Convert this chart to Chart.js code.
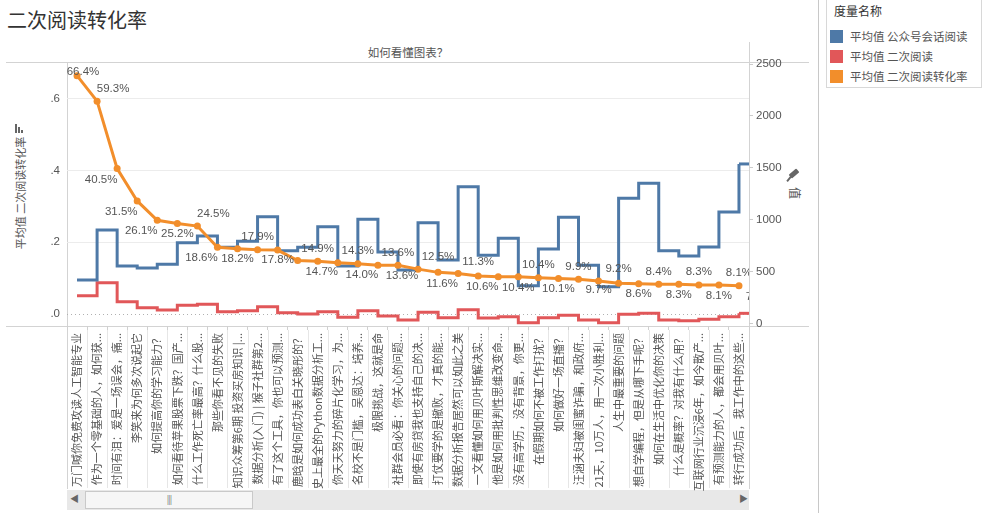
<!DOCTYPE html>
<html>
<head>
<meta charset="utf-8">
<script src="https://cdn.jsdelivr.net/npm/chart.js@4.4.1/dist/chart.umd.min.js"></script>
<style>
  body { margin: 0; width: 982px; height: 513px; position: relative; background: #fff; overflow: hidden;
         font-family: "Noto Sans CJK SC", "Noto Sans", sans-serif; color: #555; }
  .abs { position: absolute; }
  .line { position: absolute; background: #d3d3d3; }
  #title { left: 7px; top: 6px; font-size: 20px; line-height: 28px; color: #333; }
  #header { left: 67px; width: 682px; top: 44px; font-size: 11.5px; line-height: 16px; text-align: center; color: #555; }
  #chart { position: absolute; left: 0; top: 42px; z-index: 2; }
  #ytitle { left: -60px; width: 160px; top: 185px; font-size: 11px; line-height: 16px; text-align: center; transform: rotate(-90deg); color: #555; }
  #y2title { left: 787px; top: 185px; width: 16px; font-size: 12px; line-height: 16px; text-align: center; transform: rotate(90deg); color: #555; }
  #legend { left: 826px; top: 0; width: 154px; height: 87px; border: 1px solid #d8d8d8; border-top: none; background: #fff; }
  #legend .head { position: absolute; left: 7px; top: 2px; font-size: 12px; line-height: 18px; color: #333; }
  #legend .item { position: absolute; left: 3px; font-size: 11.5px; line-height: 14px; color: #555; white-space: nowrap; }
  #legend .sw { display: inline-block; width: 13px; height: 13px; vertical-align: -2px; margin-right: 7px; }
  #scroll { left: 67px; top: 490px; width: 682px; height: 20px; background: #e8e8e8; }
  #thumb { left: 85px; top: 491px; width: 168px; height: 18px; background: #f6f6f6; border: 1px solid #c9c9c9; box-sizing: border-box;
           font-size: 9px; line-height: 16px; text-align: center; color: #777; letter-spacing: -1px; }
</style>
</head>
<body>
<div id="title" class="abs">二次阅读转化率</div>
<div id="header" class="abs">如何看懂图表？</div>

<!-- frame lines -->
<div class="line" style="left:6px; top:62px; width:803px; height:1px;"></div>
<div class="line" style="left:6px; top:326px; width:803px; height:1px;"></div>
<div class="line" style="left:67px; top:62px; width:1px; height:427px;"></div>
<div class="line" style="left:749px; top:42px; width:1px; height:447px;"></div>
<div class="line" style="left:818px; top:0; width:1px; height:513px; background:#c8c8c8;"></div>

<!-- axis titles -->
<div class="abs" style="left:15px; top:124px; width:10px; height:9px;">
  <div class="abs" style="left:0; top:0; width:2px; height:9px; background:#666;"></div>
  <div class="abs" style="left:3px; top:3px; width:2px; height:6px; background:#666;"></div>
  <div class="abs" style="left:6px; top:6px; width:2px; height:3px; background:#666;"></div>
</div>
<div id="ytitle" class="abs">平均值 二次阅读转化率</div>
<div class="abs" style="left:789px; top:171px; width:10px; height:5px; background:#666; transform:rotate(-40deg); border-radius:1px;"></div>
<div class="abs" style="left:788px; top:176px; width:2px; height:6px; background:#666; transform:rotate(40deg);"></div>
<div id="y2title" class="abs">值</div>

<div id="legend" class="abs">
  <div class="head">度量名称</div>
  <div class="item" style="top:29px;"><span class="sw" style="background:#4e79a7"></span>平均值 公众号会话阅读</div>
  <div class="item" style="top:49px;"><span class="sw" style="background:#e15759"></span>平均值 二次阅读</div>
  <div class="item" style="top:69px;"><span class="sw" style="background:#f28e2b"></span>平均值 二次阅读转化率</div>
</div>

<div id="scroll" class="abs"></div>
<div class="abs" style="left:70px; top:492px; font-size:9px; color:#666;">◀</div>
<div id="thumb" class="abs">|||</div>
<div class="abs" style="left:739px; top:492px; font-size:9px; color:#666;">▶</div>

<canvas id="chart" width="820" height="450"></canvas>

<script>
// 文章标题（横轴）
const categories = [
  "万门喊你免费攻读人工智能专业",
  "作为一个零基础的人，如何获...",
  "时间有泪：爱是一场误会，痛...",
  "李笑来为何多次说起它",
  "如何提高你的学习能力？",
  "如何看待苹果股票下跌？国产...",
  "什么工作死亡率最高？什么股...",
  "那些你看不见的失败",
  "知识众筹第6期 投资买房知识 |...",
  "数据分析(入门) | 猴子社群第2...",
  "有了这个工具，你也可以预测...",
  "鹿晗是如何成功表白关晓彤的？",
  "史上最全的Python数据分析工...",
  "你天天努力的碎片化学习，为...",
  "名校不是门槛，吴恩达：培养...",
  "极限挑战，这就是命",
  "社群会员必看：你关心的问题...",
  "即使有房贷我也支持自己的决...",
  "打仗要学的是撤败，才真的能...",
  "数据分析报告居然可以如此之美",
  "一文看懂如何用贝叶斯解决实...",
  "他是如何用批判性思维改变命...",
  "没有高学历，没有背景，你更...",
  "在假期如何不被工作打扰？",
  "如何做好一场直播？",
  "汪涵夫妇被闺蜜诈骗，和政府...",
  "21天，10万人，用一次小胜利...",
  "人生中最重要的问题",
  "想自学编程，但是从哪下手呢？",
  "如何在生活中优化你的决策",
  "什么是概率？对我有什么用？",
  "互联网行业沉浸6年，如今散产...",
  "有预测能力的人，都会用贝叶...",
  "转行成功后，我工作中的这些..."
];

// 平均值 二次阅读转化率（左轴）
const rates = [0.664, 0.593, 0.405, 0.315, 0.261, 0.252, 0.245, 0.186, 0.182, 0.179, 0.178,
  0.149, 0.147, 0.143, 0.140, 0.136, 0.136, 0.125, 0.116, 0.113, 0.106, 0.104, 0.104,
  0.101, 0.099, 0.097, 0.092, 0.086, 0.084, 0.083, 0.083, 0.081, 0.081, 0.079];

// 平均值 公众号会话阅读（右轴）
const sessionReads = [420, 902, 555, 536, 571, 779, 844, 735, 793, 1030, 702, 735, 934, 555,
  1005, 690, 516, 972, 613, 1319, 658, 822, 365, 719, 1024, 562, 355, 1207, 1352, 702, 651,
  738, 1075, 1538];

// 平均值 二次阅读（右轴）
const secondReads = [269, 394, 211, 153, 131, 176, 186, 115, 124, 163, 105, 92, 115, 61, 124,
  73, 35, 109, 57, 134, 54, 66, 8, 57, 80, 35, 9, 90, 99, 35, 28, 41, 66, 99];

const rateTicks = [0, 0.2, 0.4, 0.6];
const valueTicks = [0, 500, 1000, 1500, 2000, 2500];

// 百分比标签相对数据点的偏移（像素）
const labelOffsets = [
  [6, -4], [16, -12], [-16, 11], [-16, 11], [-16, 11], [0, 10], [16, -12], [-16, 11],
  [0, 10], [0, -13], [0, 10], [20, -12], [4, 11], [20, -12], [4, 11], [20, -12], [4, 11],
  [20, -12], [4, 11], [20, -12], [4, 11], [20, 11], [20, -12], [20, 11], [20, -12], [20, 11],
  [20, -12], [20, 11], [20, -12], [20, 11], [20, -12], [20, 11], [20, -12], [20, 11]
];

const numFont = '"Liberation Sans", Arial, sans-serif';
const cjkFont = '"Noto Sans CJK SC", "Noto Sans", sans-serif';

const extras = {
  id: "extras",
  beforeDatasetsDraw(chart) {
    const { ctx, chartArea, scales } = chart;
    // 零线（虚线）
    const y0 = Math.round(scales.y.getPixelForValue(0)) + 0.5;
    ctx.save();
    ctx.strokeStyle = "#b0b0b0";
    ctx.lineWidth = 1;
    ctx.setLineDash([1, 3]);
    ctx.beginPath();
    ctx.moveTo(chartArea.left, y0);
    ctx.lineTo(chartArea.right, y0);
    ctx.stroke();
    ctx.restore();

    // 标签区域的分隔线
    const x = scales.x;
    const band = x.getPixelForValue(1) - x.getPixelForValue(0);
    ctx.save();
    ctx.strokeStyle = "#e6e6e6";
    ctx.lineWidth = 1;
    for (let i = 1; i < categories.length; i++) {
      const px = Math.round(x.getPixelForValue(i) - band / 2) + 0.5;
      ctx.beginPath();
      ctx.moveTo(px, chartArea.bottom + 4);
      ctx.lineTo(px, chartArea.bottom + 162);
      ctx.stroke();
    }
    ctx.restore();
  },
  afterDatasetDraw(chart, args) {
    const ds = chart.data.datasets[args.index];
    if (!ds.stepped) return;
    const { ctx, chartArea } = chart;
    const pts = args.meta.data;
    const last = pts[pts.length - 1];
    ctx.save();
    ctx.strokeStyle = ds.borderColor;
    ctx.lineWidth = ds.borderWidth;
    ctx.beginPath();
    ctx.moveTo(last.x, last.y);
    ctx.lineTo(chartArea.right, last.y);
    ctx.stroke();
    ctx.restore();
  },
  afterDatasetsDraw(chart) {
    const { ctx, chartArea } = chart;
    const meta = chart.getDatasetMeta(0);
    ctx.save();
    ctx.beginPath();
    ctx.rect(chartArea.left, chartArea.top, chartArea.right - chartArea.left, chartArea.bottom - chartArea.top);
    ctx.clip();
    ctx.font = "11.5px " + numFont;
    ctx.fillStyle = "#555";
    ctx.textAlign = "center";
    ctx.textBaseline = "middle";
    meta.data.forEach((pt, i) => {
      const txt = (rates[i] * 100).toFixed(1) + "%";
      const off = labelOffsets[i];
      ctx.fillText(txt, pt.x + off[0], pt.y + off[1]);
    });
    ctx.restore();
  }
};

new Chart(document.getElementById("chart"), {
  type: "line",
  data: {
    labels: categories,
    datasets: [
      {
        label: "平均值 二次阅读转化率",
        data: rates,
        yAxisID: "y",
        borderColor: "#f28e2b",
        backgroundColor: "#f28e2b",
        borderWidth: 3,
        pointRadius: 3.5,
        pointBorderWidth: 0,
        pointBackgroundColor: "#f28e2b",
        tension: 0,
        order: 0
      },
      {
        label: "平均值 公众号会话阅读",
        data: sessionReads,
        yAxisID: "y2",
        borderColor: "#4e79a7",
        borderWidth: 3,
        pointRadius: 0,
        stepped: true,
        order: 1
      },
      {
        label: "平均值 二次阅读",
        data: secondReads,
        yAxisID: "y2",
        borderColor: "#e15759",
        borderWidth: 3,
        pointRadius: 0,
        stepped: true,
        order: 2
      }
    ]
  },
  options: {
    responsive: false,
    animation: false,
    devicePixelRatio: 1,
    layout: { padding: { top: 20, left: 0, right: 0, bottom: 0 }, autoPadding: false },
    plugins: { legend: { display: false }, tooltip: { enabled: false } },
    scales: {
      x: {
        type: "category",
        offset: true,
        grid: { display: true, offset: true, drawOnChartArea: false, drawTicks: true, tickLength: 4, color: "#d0d0d0" },
        border: { display: false },
        ticks: { autoSkip: false, minRotation: 90, maxRotation: 90, padding: 3, color: "#555", font: { size: 11, family: cjkFont } },
        afterFit: (s) => { s.height = 166; }
      },
      y: {
        position: "left",
        min: -0.0334,
        max: 0.702,
        afterBuildTicks: (s) => { s.ticks = rateTicks.map((v) => ({ value: v })); },
        ticks: {
          padding: 7,
          color: "#555",
          font: { size: 11.5, family: numFont },
          callback: (v) => Number(v).toFixed(1).replace(/^0/, "")
        },
        grid: { drawTicks: false, color: (c) => (c.tick && c.tick.value === 0 ? "rgba(0,0,0,0)" : "#ececec") },
        border: { display: false },
        afterFit: (s) => { s.width = 67; }
      },
      y2: {
        position: "right",
        min: -23,
        max: 2520,
        afterBuildTicks: (s) => { s.ticks = valueTicks.map((v) => ({ value: v })); },
        ticks: { padding: 3, color: "#555", font: { size: 11.5, family: numFont }, callback: (v) => String(v) },
        grid: { drawOnChartArea: false, drawTicks: true, tickLength: 4, color: "#cccccc" },
        border: { display: false },
        afterFit: (s) => { s.width = 71; }
      }
    }
  },
  plugins: [extras]
});
</script>
</body>
</html>
